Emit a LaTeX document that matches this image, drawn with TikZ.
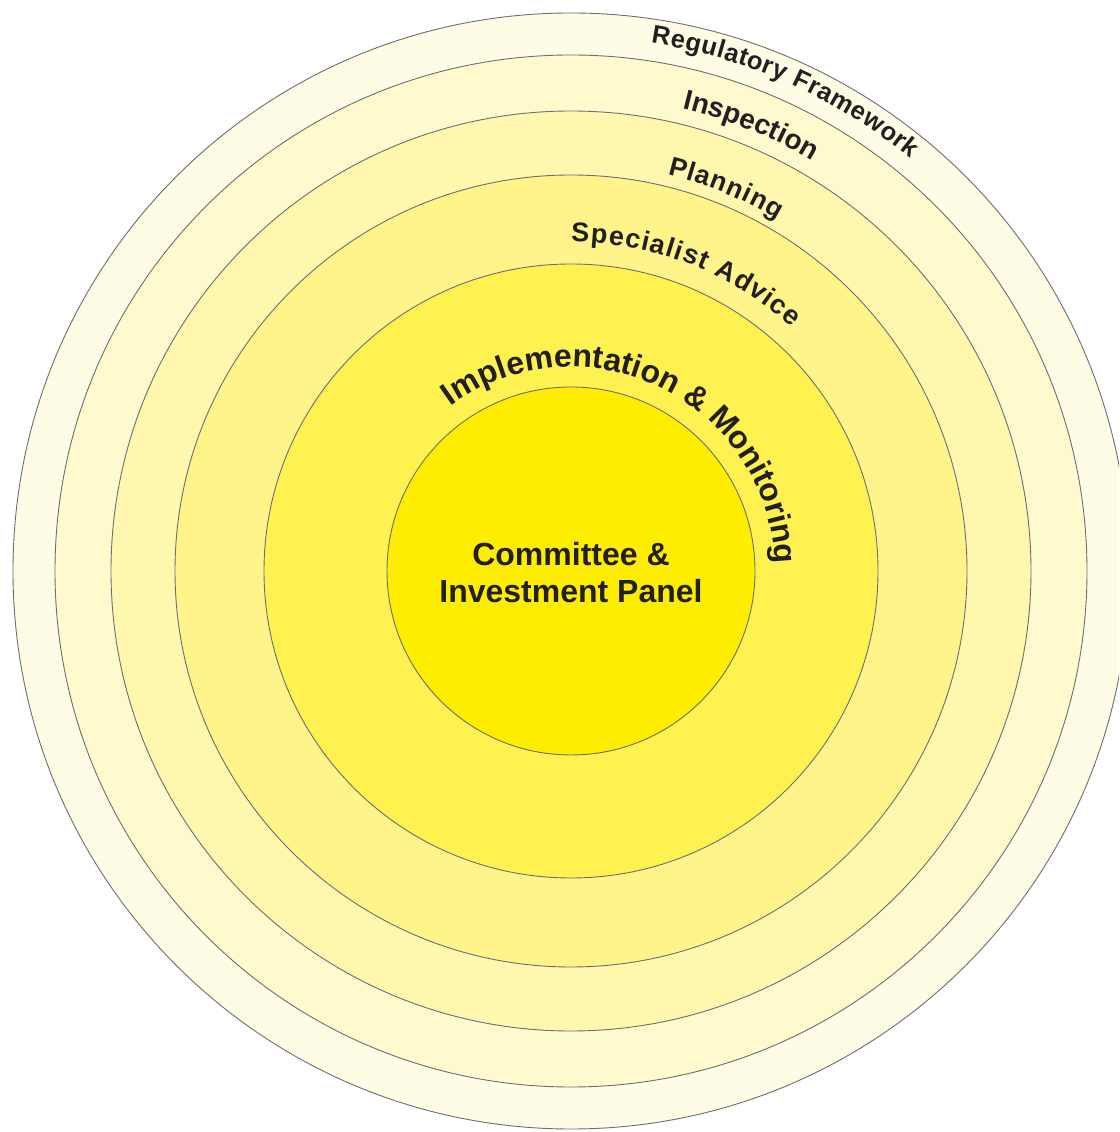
\documentclass[tikz,border=0pt]{standalone}
\usepackage{fontspec}
\setmainfont{Liberation Sans}
\usetikzlibrary{decorations.text}
\definecolor{ringA}{HTML}{FFFCE6}
\definecolor{ringB}{HTML}{FFFACD}
\definecolor{ringC}{HTML}{FFF7AE}
\definecolor{ringD}{HTML}{FFF48A}
\definecolor{ringE}{HTML}{FFF150}
\definecolor{ringF}{HTML}{FFED00}
\definecolor{edge}{HTML}{6D6E71}
\definecolor{txt}{HTML}{231F20}
\begin{document}
\begin{tikzpicture}[x=1pt,y=1pt,
  ring/.style={draw=edge, line width=0.9pt},
  arclabel/.style={decorate, decoration={text along path, text align=center, text color=txt, text={#1}}}
]
\useasboundingbox (0,0) rectangle (1119,1132);
\clip (0,0) rectangle (1119,1132);
\coordinate (C) at (571,561);
\fill[ring, fill=ringA] (C) circle[radius=558];
\fill[ring, fill=ringB] (C) circle[radius=516];
\fill[ring, fill=ringC] (C) circle[radius=460];
\fill[ring, fill=ringD] (C) circle[radius=396];
\fill[ring, fill=ringE] (C) circle[radius=307];
\fill[ring, fill=ringF] (C) circle[radius=184];
% curved labels
\path[arclabel={|\bfseries\fontsize{25.5}{30}\selectfont\kern0.6pt|Regulatory Framework}]
  (C) ++(106:534) arc[start angle=106, end angle=26, radius=534];
\path[arclabel={|\bfseries\fontsize{28}{32}\selectfont|Inspection}]
  (C) ++(98:476) arc[start angle=98, end angle=38, radius=476];
\path[arclabel={|\bfseries\fontsize{26.5}{30}\selectfont\kern1.1pt|Planning}]
  (C) ++(98:408) arc[start angle=98, end angle=38, radius=408];
\path[arclabel={|\bfseries\fontsize{27}{30}\selectfont\kern1.25pt|Specialist Advice}]
  (C) ++(119:329) arc[start angle=119, end angle=19, radius=329];
\path[arclabel={|\bfseries\fontsize{32}{36}\selectfont|Implementation {\&} Monitoring}]
  (C) ++(154:204) arc[start angle=154, end angle=-26, radius=204];
% centre text
\node[text=txt, font=\bfseries\fontsize{32}{37}\selectfont, align=center] (core) at (571,559)
  {Committee \&\\Investment Panel};
\end{tikzpicture}
\end{document}
